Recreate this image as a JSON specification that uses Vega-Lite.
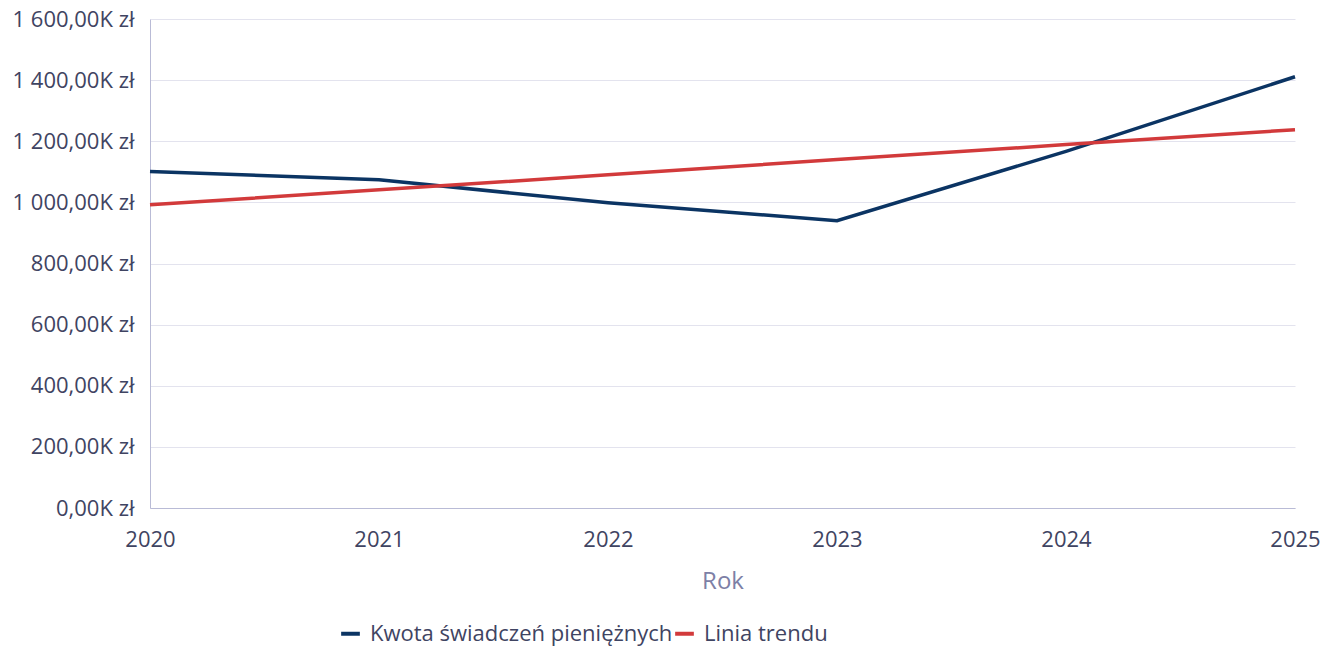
{
  "$schema": "https://vega.github.io/schema/vega-lite/v6.json",
  "width": 1145,
  "height": 489,
  "autosize": {"type": "none"},
  "padding": {"left": 150, "top": 19, "right": 35, "bottom": 139},
  "background": "#ffffff",
  "config": {
    "font": "Open Sans",
    "view": {"stroke": null},
    "axis": {"labelFont": "Open Sans", "titleFont": "Open Sans"}
  },
  "data": {
    "values": [
      {"rok": 2020, "seria": "Kwota świadczeń pieniężnych", "kwota": 1101000},
      {"rok": 2021, "seria": "Kwota świadczeń pieniężnych", "kwota": 1074000},
      {"rok": 2022, "seria": "Kwota świadczeń pieniężnych", "kwota": 999000},
      {"rok": 2023, "seria": "Kwota świadczeń pieniężnych", "kwota": 940000},
      {"rok": 2024, "seria": "Kwota świadczeń pieniężnych", "kwota": 1167000},
      {"rok": 2025, "seria": "Kwota świadczeń pieniężnych", "kwota": 1411000},
      {"rok": 2020, "seria": "Linia trendu", "kwota": 992000},
      {"rok": 2021, "seria": "Linia trendu", "kwota": 1041000},
      {"rok": 2022, "seria": "Linia trendu", "kwota": 1090000},
      {"rok": 2023, "seria": "Linia trendu", "kwota": 1140000},
      {"rok": 2024, "seria": "Linia trendu", "kwota": 1189000},
      {"rok": 2025, "seria": "Linia trendu", "kwota": 1238000}
    ]
  },
  "mark": {"type": "line", "strokeWidth": 3.5, "strokeCap": "butt", "strokeJoin": "miter"},
  "encoding": {
    "x": {
      "field": "rok",
      "type": "quantitative",
      "scale": {"domain": [2020, 2025], "nice": false, "zero": false},
      "axis": {
        "title": "Rok",
        "values": [2020, 2021, 2022, 2023, 2024, 2025],
        "format": "d",
        "grid": false,
        "ticks": false,
        "domainColor": "#b9bbd6",
        "domainWidth": 1,
        "labelFontSize": 22,
        "labelColor": "#3f4462",
        "labelPadding": 21,
        "labelFlush": false,
        "labelOverlap": false,
        "titleFontSize": 24,
        "titleFontWeight": "normal",
        "titleColor": "#7d80a6",
        "titlePadding": 19
      }
    },
    "y": {
      "field": "kwota",
      "type": "quantitative",
      "scale": {"domain": [0, 1600000], "nice": false},
      "axis": {
        "title": null,
        "values": [0, 200000, 400000, 600000, 800000, 1000000, 1200000, 1400000, 1600000],
        "labelExpr": "replace(replace(format(datum.value / 1000, ',.2f'), ',', ' '), '.', ',') + 'K zł'",
        "ticks": false,
        "grid": true,
        "gridColor": "#e3e3ee",
        "gridWidth": 1,
        "domainColor": "#b9bbd6",
        "domainWidth": 1,
        "labelFontSize": 22,
        "labelColor": "#3f4462",
        "labelPadding": 16
      }
    },
    "color": {
      "field": "seria",
      "type": "nominal",
      "scale": {
        "domain": ["Kwota świadczeń pieniężnych", "Linia trendu"],
        "range": ["#0b3463", "#d23a3b"]
      },
      "legend": {
        "title": null,
        "orient": "none",
        "legendX": 189,
        "legendY": 603,
        "direction": "horizontal",
        "symbolType": "stroke",
        "symbolStrokeWidth": 4,
        "symbolSize": 350,
        "labelFontSize": 22,
        "labelColor": "#3f4462",
        "labelFont": "Open Sans",
        "labelOffset": 8,
        "columnPadding": -14,
        "labelLimit": 400
      }
    }
  }
}
